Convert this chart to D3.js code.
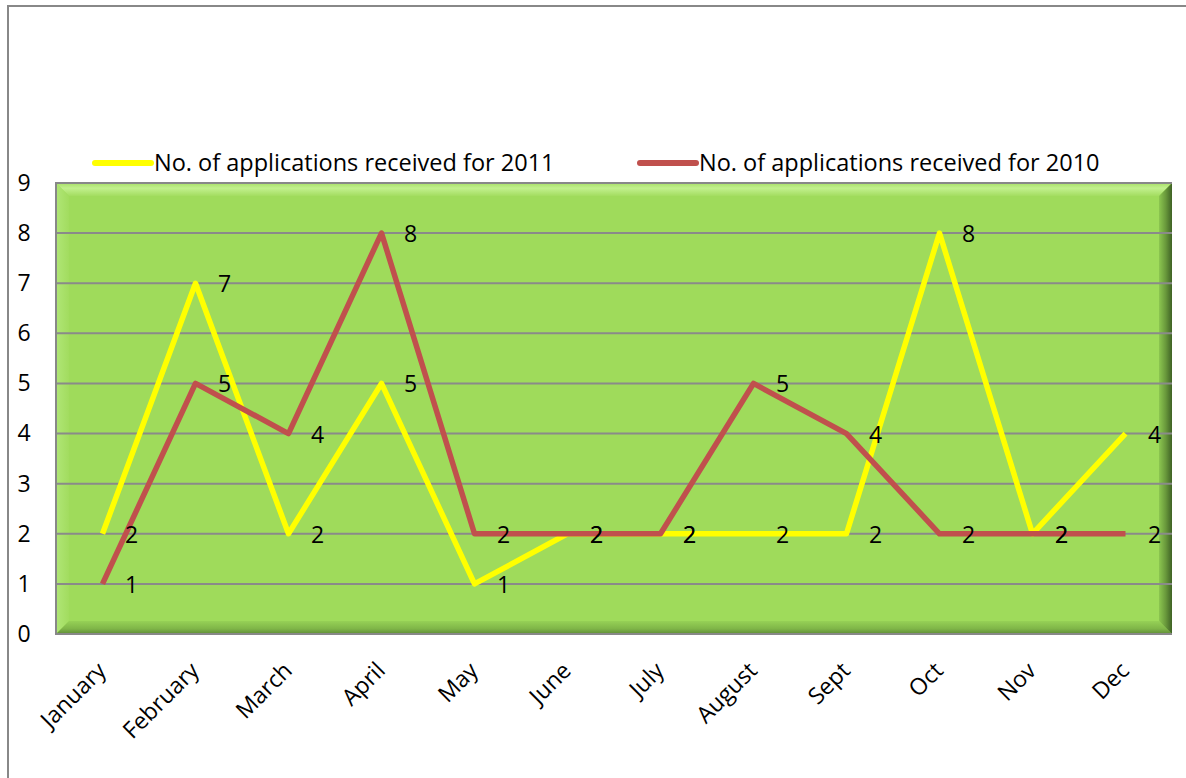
<!DOCTYPE html>
<html>
<head>
<meta charset="utf-8">
<script src="https://cdn.jsdelivr.net/npm/d3@7"></script>
<style>
  body { margin: 0; background: #fff; overflow: hidden; }
  text { font-family: "Open Sans", "Noto Sans", sans-serif; fill: #000; }
</style>
</head>
<body>
<div id="container"></div>
<script>
/* DATA */
const months = ["January", "February", "March", "April", "May", "June", "July", "August", "Sept", "Oct", "Nov", "Dec"];
const apps2011 = [2, 7, 2, 5, 1, 2, 2, 2, 2, 8, 2, 4];
const apps2010 = [1, 5, 4, 8, 2, 2, 2, 5, 4, 2, 2, 2];
const yTicks = [0, 1, 2, 3, 4, 5, 6, 7, 8, 9];
const seriesNames = ["No. of applications received for 2011", "No. of applications received for 2010"];

const width = 1186, height = 778;
const margin = { top: 183, bottom: 144, left: 56, right: 14 };

const svg = d3.select('#container')
  .append('svg')
  .attr('width', width)
  .attr('height', height)
  .style('display', 'block');

// outer chart border, only left and top edges are on the page
svg.append('path')
  .attr('d', `M8,${height}V6H${width}`)
  .attr('fill', 'none')
  .attr('stroke', '#888').attr('stroke-width', 2);

/* SCALES */
const xScale = d3.scaleBand()
  .domain(months)
  .range([margin.left, width - margin.right]);

const yScale = d3.scaleLinear()
  .domain([0, 9])
  .range([height - margin.bottom, margin.top]);

const x0 = margin.left, x1 = width - margin.right;
const y0 = margin.top, y1 = height - margin.bottom;
const bev = 13;

// plot area with bevel
const plot = svg.append('g');
plot.append('rect')
  .attr('x', x0).attr('y', y0)
  .attr('width', x1 - x0).attr('height', y1 - y0)
  .attr('fill', '#9fdb5b');

const defs = svg.append('defs');
function grad(id, dir, stops) {
  const g = defs.append('linearGradient').attr('id', id)
    .attr('x1', dir[0]).attr('y1', dir[1]).attr('x2', dir[2]).attr('y2', dir[3]);
  stops.forEach(s => g.append('stop').attr('offset', s[0]).attr('stop-color', s[1]));
}
grad('bevTop', ['0', '0', '0', '1'], [[0, '#a8e068'], [0.4, '#c2f08e'], [1, '#a3dd60']]);
grad('bevLeft', ['0', '0', '1', '0'], [[0, '#b0e676'], [1, '#a2dc5f']]);
grad('bevBottom', ['0', '0', '0', '1'], [[0, '#96d156'], [0.6, '#7fb548'], [1, '#5f8c37']]);
grad('bevRight', ['0', '0', '1', '0'], [[0, '#8cc650'], [0.5, '#6a9a3c'], [1, '#3f6225']]);

plot.append('polygon')
  .attr('points', [[x0, y0], [x1, y0], [x1 - bev, y0 + bev], [x0 + bev, y0 + bev]].join(' '))
  .attr('fill', 'url(#bevTop)');
plot.append('polygon')
  .attr('points', [[x0, y0], [x0 + bev, y0 + bev], [x0 + bev, y1 - bev], [x0, y1]].join(' '))
  .attr('fill', 'url(#bevLeft)');
plot.append('polygon')
  .attr('points', [[x0, y1], [x0 + bev, y1 - bev], [x1 - bev, y1 - bev], [x1, y1]].join(' '))
  .attr('fill', 'url(#bevBottom)');
plot.append('polygon')
  .attr('points', [[x1, y0], [x1 - bev, y0 + bev], [x1 - bev, y1 - bev], [x1, y1]].join(' '))
  .attr('fill', 'url(#bevRight)');

// gridlines
svg.append('g')
  .selectAll('line')
  .data(yTicks.filter(d => d > 0 && d < 9))
  .join('line')
  .attr('x1', x0).attr('x2', x1)
  .attr('y1', d => yScale(d)).attr('y2', d => yScale(d))
  .attr('stroke', '#8a8a8a').attr('stroke-width', 2);

// plot border left/top/bottom
svg.append('path')
  .attr('d', `M${x1},${y0}H${x0}V${y1}H${x1}`)
  .attr('fill', 'none')
  .attr('stroke', '#888').attr('stroke-width', 2);

/* AXES */
const yAxis = d3.axisLeft(yScale).tickValues(yTicks).tickSize(0).tickPadding(32);
svg.append('g')
  .attr('transform', `translate(${x0},0)`)
  .call(yAxis)
  .call(g => g.select('.domain').remove())
  .selectAll('text')
  .attr('font-size', 23)
  .attr('text-anchor', 'middle');

const xAxis = d3.axisBottom(xScale).tickSize(0);
svg.append('g')
  .attr('transform', `translate(0,${y1})`)
  .call(xAxis)
  .call(g => g.select('.domain').remove())
  .selectAll('text')
  .attr('font-size', 23)
  .attr('text-anchor', 'end')
  .attr('dy', 0)
  .attr('transform', 'translate(5,38) rotate(-45)')
  .attr('x', 0).attr('y', 0);

/* LINES */
const line = d3.line()
  .x((d, i) => xScale(months[i]) + xScale.bandwidth() / 2)
  .y(d => yScale(d));

const series = [
  { name: seriesNames[0], values: apps2011, color: '#ffff00' },
  { name: seriesNames[1], values: apps2010, color: '#c0504d' }
];

series.forEach(s => {
  svg.append('path')
    .datum(s.values)
    .attr('fill', 'none')
    .attr('stroke', s.color)
    .attr('stroke-width', 5.5)
    .attr('stroke-linejoin', 'round')
    .attr('d', line);
});

// data labels
series.forEach(s => {
  svg.append('g')
    .selectAll('text')
    .data(s.values)
    .join('text')
    .attr('x', (d, i) => xScale(months[i]) + xScale.bandwidth() / 2 + 29)
    .attr('y', d => yScale(d) + 9)
    .attr('text-anchor', 'middle')
    .attr('font-size', 23)
    .text(d => d);
});

/* LEGEND */
const legendPos = [95, 640];
series.forEach((s, i) => {
  const g = svg.append('g').attr('transform', `translate(${legendPos[i]},163)`);
  g.append('line')
    .attr('x1', 0).attr('x2', 56)
    .attr('stroke', s.color).attr('stroke-width', 6)
    .attr('stroke-linecap', 'round');
  g.append('text')
    .attr('x', 59).attr('y', 8)
    .attr('font-size', 23.5)
    .text(s.name);
});
</script>
</body>
</html>
